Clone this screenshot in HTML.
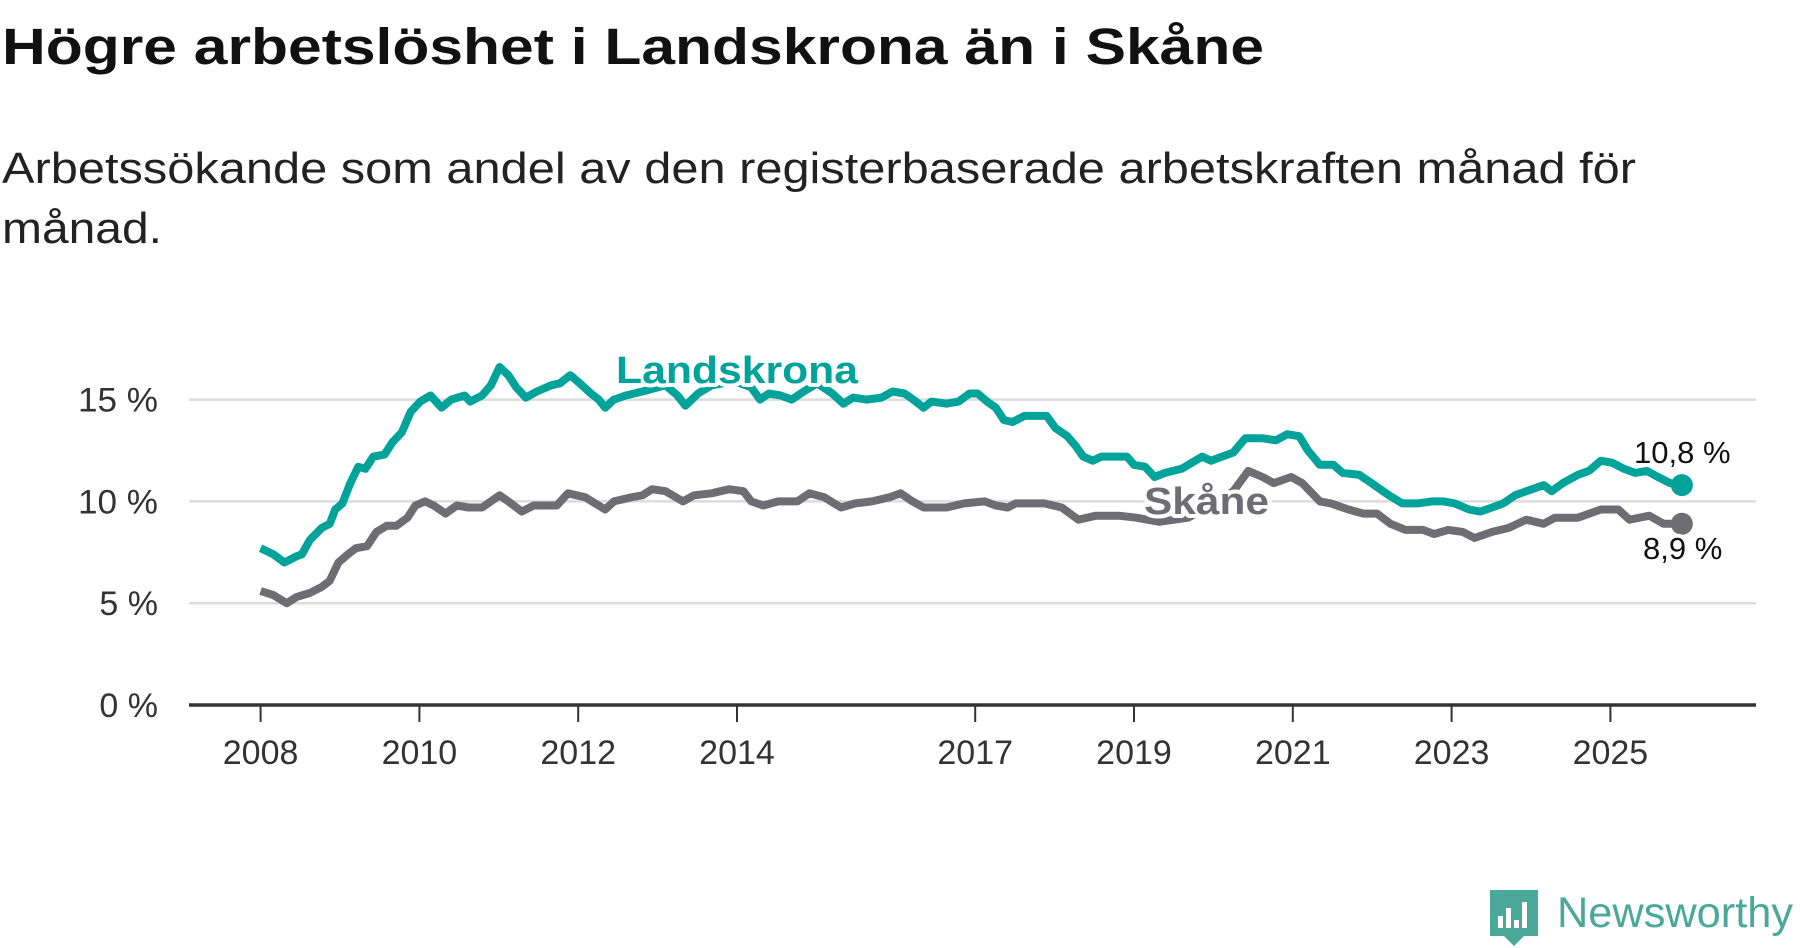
<!DOCTYPE html>
<html><head><meta charset="utf-8"><style>
html,body{margin:0;padding:0;background:#fff;}
svg{display:block;font-family:"Liberation Sans",sans-serif;}
</style></head><body>
<svg id="chart" width="1800" height="948" viewBox="0 0 1800 948">
<text x="2" y="64" font-size="51" font-weight="bold" fill="#111" textLength="1262" lengthAdjust="spacingAndGlyphs">Högre arbetslöshet i Landskrona än i Skåne</text>
<text x="2" y="183" font-size="44" fill="#222" textLength="1634" lengthAdjust="spacingAndGlyphs">Arbetssökande som andel av den registerbaserade arbetskraften månad för</text>
<text x="2" y="243" font-size="44" fill="#222" textLength="160" lengthAdjust="spacingAndGlyphs">månad.</text>
<g id="grid"></g>
<g id="xaxis"></g>
<g id="series"></g>
<g id="labels"></g>
<g>
  <path d="M1490 890 h48 v46 h-14 l-10 10 l-10 -10 h-14 z" fill="#4aa89a"/>
  <rect x="1498" y="916" width="5" height="12" fill="#fff"/>
  <rect x="1506" y="908" width="5" height="20" fill="#fff"/>
  <rect x="1514" y="920" width="5" height="8" fill="#fff"/>
  <rect x="1522" y="902" width="5" height="26" fill="#fff"/>
  <text x="1557" y="927" font-size="43" fill="#4aa89a" textLength="236" lengthAdjust="spacingAndGlyphs">Newsworthy</text>
</g>
</svg>
<script>
const yTicks = [0, 5, 10, 15];
const yTickLabels = ["0 %", "5 %", "10 %", "15 %"];
const xTicks = [2008, 2010, 2012, 2014, 2017, 2019, 2021, 2023, 2025];
const landskronaYears = [0,0.16,0.30,0.45,0.52,0.62,0.77,0.87,0.94,1.03,1.13,1.23,1.32,1.42,1.56,1.66,1.78,1.89,2.01,2.14,2.28,2.40,2.57,2.64,2.79,2.90,3.01,3.12,3.22,3.34,3.48,3.66,3.77,3.90,4.02,4.16,4.26,4.34,4.45,4.60,4.81,5.10,5.25,5.35,5.51,5.68,5.97,6.18,6.29,6.40,6.55,6.69,6.84,7.01,7.20,7.34,7.46,7.63,7.82,7.96,8.11,8.22,8.35,8.45,8.64,8.79,8.93,9.03,9.15,9.26,9.36,9.47,9.62,9.80,9.90,10.01,10.16,10.27,10.36,10.48,10.59,10.74,10.91,11.00,11.14,11.26,11.39,11.60,11.86,11.97,12.11,12.25,12.40,12.62,12.79,12.93,13.08,13.19,13.34,13.51,13.63,13.84,13.99,14.21,14.38,14.57,14.75,14.90,15.04,15.22,15.36,15.51,15.65,15.80,15.94,16.16,16.26,16.40,16.59,16.73,16.88,17.02,17.17,17.31,17.46,17.60,17.75,17.90];
const landskronaValues = [7.7,7.4,7.0,7.3,7.4,8.1,8.7,8.9,9.6,9.9,10.9,11.7,11.6,12.2,12.3,12.9,13.4,14.4,14.9,15.2,14.6,15.0,15.2,14.9,15.2,15.7,16.6,16.2,15.6,15.1,15.4,15.7,15.8,16.2,15.8,15.3,15.0,14.6,15.0,15.2,15.4,15.7,15.2,14.7,15.3,15.7,15.9,15.6,15.0,15.3,15.2,15.0,15.4,15.8,15.3,14.8,15.1,15.0,15.1,15.4,15.3,15.0,14.6,14.9,14.8,14.9,15.3,15.3,14.9,14.6,14.0,13.9,14.2,14.2,14.2,13.6,13.2,12.7,12.2,12.0,12.2,12.2,12.2,11.8,11.7,11.2,11.4,11.6,12.2,12.0,12.2,12.4,13.1,13.1,13.0,13.3,13.2,12.5,11.8,11.8,11.4,11.3,10.9,10.3,9.9,9.9,10.0,10.0,9.9,9.6,9.5,9.7,9.9,10.3,10.5,10.8,10.5,10.9,11.3,11.5,12.0,11.9,11.6,11.4,11.5,11.2,10.9,10.8];
const skaneYears = [0,0.16,0.33,0.45,0.62,0.77,0.87,0.98,1.10,1.20,1.34,1.46,1.59,1.71,1.85,1.95,2.07,2.18,2.33,2.47,2.62,2.79,3.01,3.12,3.29,3.44,3.73,3.87,4.09,4.34,4.45,4.67,4.81,4.93,5.10,5.32,5.46,5.68,5.90,6.08,6.18,6.33,6.52,6.76,6.91,7.10,7.31,7.49,7.70,7.92,8.06,8.21,8.35,8.64,8.86,9.12,9.26,9.41,9.51,9.87,10.09,10.30,10.52,10.81,11.03,11.32,11.68,11.97,12.25,12.44,12.62,12.76,12.98,13.12,13.34,13.48,13.70,13.89,14.06,14.23,14.42,14.64,14.78,14.96,15.14,15.29,15.51,15.72,15.94,16.16,16.30,16.59,16.88,17.10,17.24,17.49,17.67,17.90];
const skaneValues = [5.6,5.4,5.0,5.3,5.5,5.8,6.1,7.0,7.4,7.7,7.8,8.5,8.8,8.8,9.2,9.8,10.0,9.8,9.4,9.8,9.7,9.7,10.3,10.0,9.5,9.8,9.8,10.4,10.2,9.6,10.0,10.2,10.3,10.6,10.5,10.0,10.3,10.4,10.6,10.5,10.0,9.8,10.0,10.0,10.4,10.2,9.7,9.9,10.0,10.2,10.4,10.0,9.7,9.7,9.9,10.0,9.8,9.7,9.9,9.9,9.7,9.1,9.3,9.3,9.2,9.0,9.2,9.8,10.5,11.5,11.2,10.9,11.2,10.9,10.0,9.9,9.6,9.4,9.4,8.9,8.6,8.6,8.4,8.6,8.5,8.2,8.5,8.7,9.1,8.9,9.2,9.2,9.6,9.6,9.1,9.3,8.9,8.9];
const endLabels = ["10,8 %", "8,9 %"];

const NS = "http://www.w3.org/2000/svg";
const X = y => 260.6 + (y - 2008) * 79.4;
const Y = v => 705 - v * 20.36;
function mk(tag, attrs, parent) {
  const e = document.createElementNS(NS, tag);
  for (const k in attrs) e.setAttribute(k, attrs[k]);
  parent.appendChild(e);
  return e;
}
const grid = document.getElementById('grid');
yTicks.forEach((v, i) => {
  if (v !== 0) {
    const l = mk('line', {x1: 189, x2: 1756, y1: Y(v), y2: Y(v), stroke: '#dcdcdc', 'stroke-width': 2.5}, grid);
    
    
  }
  const t = mk('text', {x: 158, y: Y(v) + 12, 'text-anchor': 'end', 'font-size': 34, fill: '#333'}, grid);
  
  
  t.textContent = yTickLabels[i];
  if (yTickLabels[i].length > 3) { t.setAttribute('textLength', 80); t.setAttribute('lengthAdjust', 'spacingAndGlyphs'); }
});
const xa = document.getElementById('xaxis');
const axis = mk('line', {x1: 189, x2: 1756, y1: Y(0), y2: Y(0), stroke: '#333', 'stroke-width': 3.5}, xa);


xTicks.forEach(yr => {
  const tk = mk('line', {x1: X(yr), x2: X(yr), y1: Y(0), y2: Y(0) + 17, stroke: '#333', 'stroke-width': 2}, xa);
  
  
  const t = mk('text', {x: X(yr), y: 764, 'text-anchor': 'middle', 'font-size': 34, fill: '#333'}, xa);
  
  
  t.textContent = yr;
});
const sg = document.getElementById('series');
function pathOf(ys, vs) {
  return ys.map((t, i) => (i ? 'L' : 'M') + X(2008 + t).toFixed(1) + ' ' + Y(vs[i]).toFixed(1)).join(' ');
}
const s1 = mk('path', {d: pathOf(skaneYears, skaneValues), fill: 'none', stroke: '#6e6d73', 'stroke-width': 8, 'stroke-linejoin': 'round'}, sg);


const s2 = mk('path', {d: pathOf(landskronaYears, landskronaValues), fill: 'none', stroke: '#00a39a', 'stroke-width': 8, 'stroke-linejoin': 'round'}, sg);


const lastL = landskronaValues.length - 1, lastS = skaneValues.length - 1;
const d1 = mk('circle', {cx: X(2008 + landskronaYears[lastL]), cy: Y(landskronaValues[lastL]), r: 11, fill: '#00a39a'}, sg);


const d2 = mk('circle', {cx: X(2008 + skaneYears[lastS]), cy: Y(skaneValues[lastS]), r: 11, fill: '#6e6d73'}, sg);


const lg = document.getElementById('labels');
const halo = {stroke: '#fff', 'stroke-width': 8, 'paint-order': 'stroke', 'stroke-linejoin': 'round'};
const ln = mk('text', Object.assign({x: 616, y: 383, 'font-size': 38, 'font-weight': 'bold', fill: '#00a39a', textLength: 242, lengthAdjust: 'spacingAndGlyphs'}, halo), lg);


ln.textContent = 'Landskrona';
const sn = mk('text', Object.assign({x: 1144, y: 514, 'font-size': 38, 'font-weight': 'bold', fill: '#6e6d73', textLength: 125, lengthAdjust: 'spacingAndGlyphs'}, halo), lg);


sn.textContent = 'Skåne';
const e1 = mk('text', Object.assign({x: 1634, y: 463, 'font-size': 31, fill: '#111'}, halo), lg);


e1.textContent = endLabels[0];
const e2 = mk('text', Object.assign({x: 1643, y: 559, 'font-size': 31, fill: '#111'}, halo), lg);


e2.textContent = endLabels[1];
</script>
</body></html>
